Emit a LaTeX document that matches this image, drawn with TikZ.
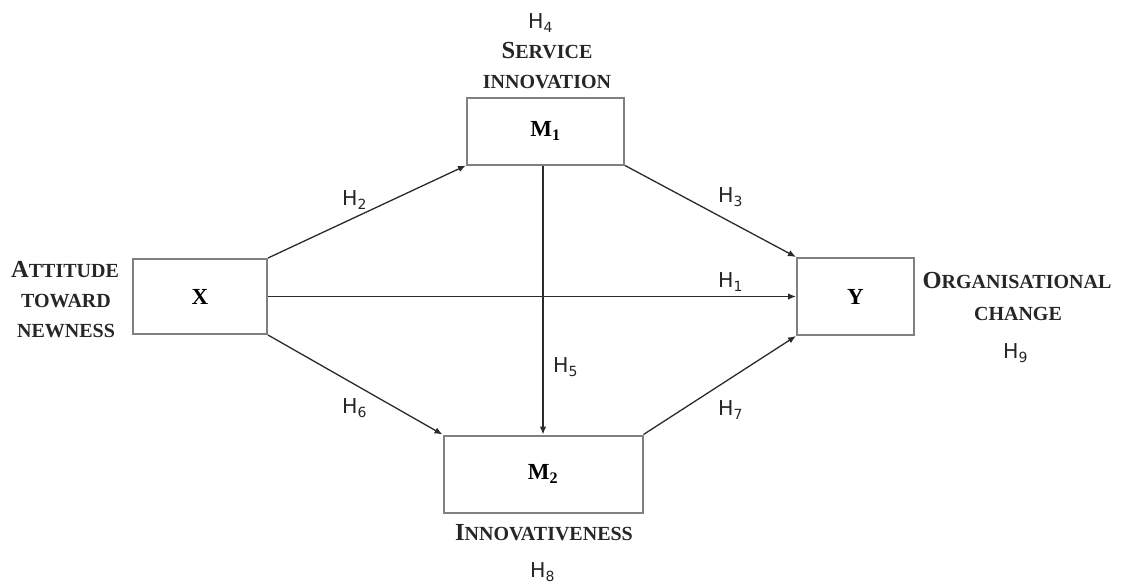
\documentclass[tikz,border=0pt]{standalone}
\usepackage{fontspec}
\setmainfont{Liberation Serif}
\newfontfamily\hfont{DejaVu Sans}
\usetikzlibrary{arrows.meta}
\newcommand{\bigc}[1]{{\fontsize{24.5}{28}\selectfont #1}}
\newcommand{\hyp}[1]{H\raisebox{-4.5pt}{\fontsize{14}{14}\selectfont #1}}
\definecolor{boxgray}{HTML}{808080}
\definecolor{arrgray}{HTML}{2A2A2A}
\tikzset{
  varbox/.style={draw=boxgray, line width=2pt, inner sep=0pt,
    font=\fontsize{23}{27}\selectfont\bfseries},
  link/.style={draw=arrgray, line width=1.3pt, -{Latex[length=8pt,width=6.5pt]}},
  hlab/.style={anchor=base west, inner sep=0pt, text=black!85,
    font=\hfont\fontsize{20.5}{24}\selectfont},
  vlab/.style={anchor=base, inner sep=0pt, text=black!85,
    font=\fontsize{20}{24}\selectfont\bfseries},
}
\begin{document}
\begin{tikzpicture}[x=1pt,y=-1pt]
\useasboundingbox (0,0) rectangle (1122,587);
% boxes
\node[varbox, minimum width=134pt, minimum height=75pt] (X) at (200,296.5) {X};
\node[varbox, minimum width=157pt, minimum height=67pt] (M1) at (545.5,131) {M\textsubscript{1}};
\node[varbox, minimum width=199pt, minimum height=77pt] (M2) at (543,474) {M\textsubscript{2}};
\node[varbox, minimum width=117pt, minimum height=77pt] (Y) at (855.5,296.5) {Y};
% connectors
\draw[link] (X.north east) -- (M1.south west);
\draw[link] (M1.south east) -- (Y.north west);
\draw[link] (X.east) -- (Y.west);
\draw[link] (X.south east) -- (M2.north west);
\draw[link] (M2.north east) -- (Y.south west);
\draw[link] (M1.south -| M2.north) -- (M2.north);
% hypothesis labels
\node[hlab] (h1) at (718,287) {\hyp{1}};
\node[hlab] (h2) at (342,205) {\hyp{2}};
\node[hlab] (h3) at (718,202) {\hyp{3}};
\node[hlab] (h4) at (528,28) {\hyp{4}};
\node[hlab] (h5) at (553,372) {\hyp{5}};
\node[hlab] (h6) at (342,413) {\hyp{6}};
\node[hlab] (h7) at (718,415) {\hyp{7}};
\node[hlab] (h8) at (530,577) {\hyp{8}};
\node[hlab] (h9) at (1003,358) {\hyp{9}};
% variable names
\node[vlab] (att1) at (65,277) {\bigc{A}TTITUDE};
\node[vlab] (att2) at (66,307) {TOWARD};
\node[vlab] (att3) at (66,337) {NEWNESS};
\node[vlab] (ser1) at (547,58) {\bigc{S}ERVICE};
\node[vlab] (ser2) at (547,88) {INNOVATION};
\node[vlab] (org1) at (1017,288) {\bigc{O}RGANISATIONAL};
\node[vlab] (org2) at (1018,320) {CHANGE};
\node[vlab] (inn1) at (544,540) {\bigc{I}NNOVATIVENESS};
\end{tikzpicture}
\end{document}
